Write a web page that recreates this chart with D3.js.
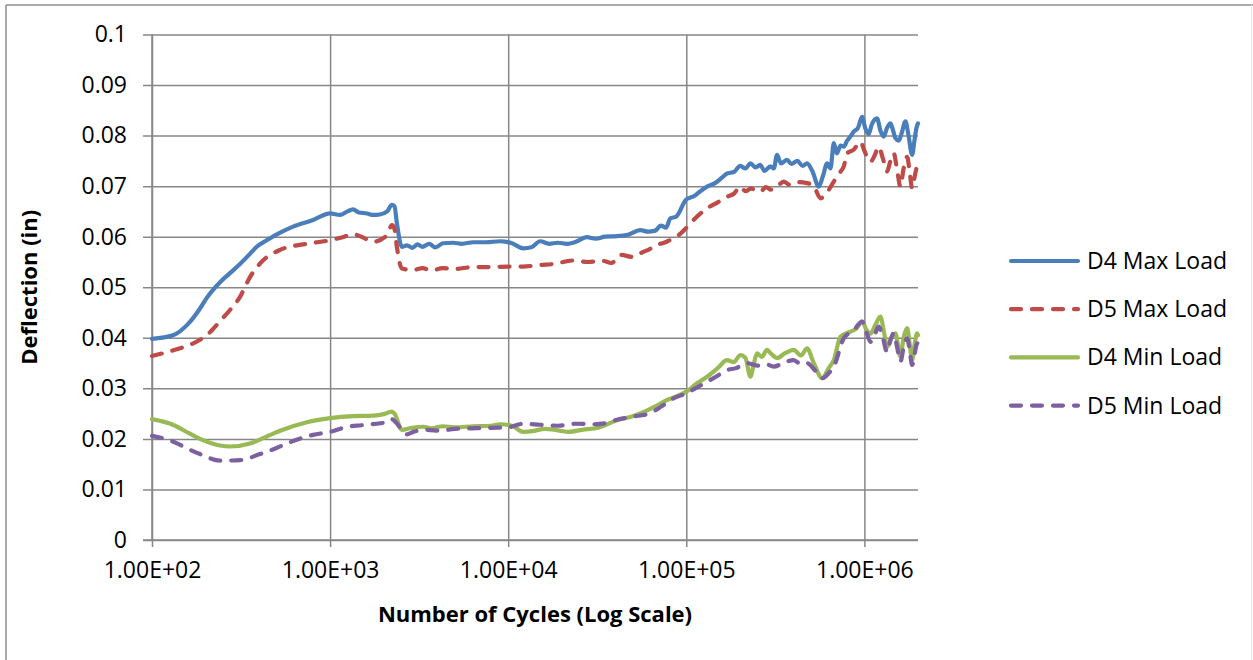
<!DOCTYPE html>
<html>
<head>
<meta charset="utf-8">
<script src="https://cdn.jsdelivr.net/npm/d3@7/dist/d3.min.js"></script>
<style>
  html, body { margin: 0; padding: 0; background: #ffffff; }
  svg { display: block; font-family: "Open Sans", "Noto Sans", sans-serif; }
</style>
</head>
<body>
<svg id="chart" width="1253" height="660"></svg>
<script>
// ---------------- DATA ----------------
const xTickValues = [1e2, 1e3, 1e4, 1e5, 1e6];
const xTickLabels = ["1.00E+02", "1.00E+03", "1.00E+04", "1.00E+05", "1.00E+06"];
const yTickValues = [0, 0.01, 0.02, 0.03, 0.04, 0.05, 0.06, 0.07, 0.08, 0.09, 0.1];
const yTickLabels = ["0", "0.01", "0.02", "0.03", "0.04", "0.05", "0.06", "0.07", "0.08", "0.09", "0.1"];
const seriesNames = ["D4 Max Load", "D5 Max Load", "D4 Min Load", "D5 Min Load"];

const d4MaxCycles = [100,131,160,186,203,241,274,312,355,387,441,524,620,802,1000,1138,1250,1346,1450,1614,1745,1900,2091,2222,2300,2371,2529,2700,2900,3100,3300,3600,3900,4300,4910,5500,6360,7500,9010,10500,12140,13500,15120,17000,19000,21370,24000,27670,31000,35000,40810,47000,55190,61000,66960,72000,77000,81290,88000,99600,110000,120000,130700,145000,160000,169300,185000,201100,215000,229100,245000,260000,275000,296400,310000,323200,340000,368000,390000,420000,450000,476600,510000,554200,585000,618000,645000,673300,700000,735000,766000,800000,834600,871400,920000,970700,1010000,1057000,1100000,1178000,1230000,1283000,1340000,1400000,1450000,1493000,1560000,1620000,1700000,1770000,1853000,1910000,1960000,2000000];
const d4Max = [0.0398,0.0405,0.0428,0.0458,0.0479,0.0510,0.0528,0.0546,0.0566,0.0580,0.0593,0.0608,0.0620,0.0633,0.0646,0.0643,0.0650,0.0654,0.0648,0.0646,0.0643,0.0644,0.0650,0.0663,0.0660,0.0627,0.0580,0.0583,0.0578,0.0585,0.0580,0.0586,0.0579,0.0587,0.0588,0.0586,0.0589,0.0589,0.0591,0.0587,0.0577,0.0579,0.0591,0.0586,0.0588,0.0586,0.0590,0.0599,0.0596,0.0600,0.0601,0.0604,0.0613,0.0610,0.0612,0.0622,0.0618,0.0636,0.0640,0.0673,0.0680,0.0690,0.0699,0.0706,0.0718,0.0725,0.0728,0.0740,0.0735,0.0745,0.0737,0.0742,0.0730,0.0739,0.0735,0.0762,0.0745,0.0752,0.0744,0.0750,0.0740,0.0745,0.0730,0.0699,0.0720,0.0745,0.0735,0.0785,0.0765,0.0780,0.0778,0.0790,0.0798,0.0808,0.0815,0.0837,0.0815,0.0803,0.0822,0.0834,0.0810,0.0798,0.0815,0.0824,0.0810,0.0795,0.0790,0.0805,0.0828,0.0800,0.0762,0.0790,0.0815,0.0824];

const d5MaxCycles = [100,131,160,186,210,241,274,312,355,404,524,740,1000,1200,1346,1500,1745,2091,2222,2300,2371,2529,2927,3300,3700,4300,5000,6360,8000,10000,12000,15120,18000,23180,28000,34180,38000,42580,50000,57330,62000,68420,75000,84530,92000,99600,115000,130700,150000,169300,185000,201100,215000,230000,260600,280000,300000,330000,352200,380000,420000,476600,520000,566300,610000,673300,720000,766000,800200,870000,950000,1000000,1081000,1140000,1203000,1270000,1341000,1400000,1461000,1530000,1593000,1660000,1738000,1800000,1853000,1930000,2000000];
const d5Max = [0.0364,0.0375,0.0385,0.0396,0.0410,0.0433,0.0455,0.0481,0.0520,0.0547,0.0574,0.0586,0.0593,0.0600,0.0605,0.0600,0.0590,0.0603,0.0623,0.0615,0.0580,0.0537,0.0534,0.0538,0.0533,0.0538,0.0536,0.0540,0.0540,0.0541,0.0541,0.0544,0.0546,0.0553,0.0550,0.0552,0.0548,0.0564,0.0560,0.0570,0.0575,0.0584,0.0588,0.0597,0.0605,0.0617,0.0640,0.0656,0.0668,0.0679,0.0685,0.0699,0.0690,0.0695,0.0689,0.0698,0.0693,0.0702,0.0709,0.0703,0.0708,0.0706,0.0700,0.0676,0.0685,0.0709,0.0725,0.0739,0.0765,0.0772,0.0788,0.0770,0.0748,0.0760,0.0778,0.0755,0.0729,0.0750,0.0765,0.0730,0.0699,0.0735,0.0758,0.0725,0.0696,0.0725,0.0748];

const d4MinCycles = [100,131,160,186,241,274,355,430,524,740,1000,1346,1745,2000,2222,2300,2529,2800,3328,3700,4300,5000,6360,8000,9010,10500,12140,14000,16000,19000,22000,26000,32000,40810,50000,60000,70000,77940,85000,99600,115000,130700,150000,169300,185000,201100,215000,229100,240000,249600,265000,283900,300000,323200,360000,401000,440000,476600,520000,579200,630000,673300,733600,834600,900000,970700,1030000,1081000,1150000,1230000,1290000,1341000,1420000,1493000,1593000,1660000,1738000,1800000,1853000,1920000,1977000,2000000];
const d4Min = [0.0239,0.0228,0.0212,0.0200,0.0187,0.0185,0.0191,0.0203,0.0216,0.0233,0.0241,0.0245,0.0246,0.0249,0.0254,0.0250,0.0218,0.0221,0.0224,0.0221,0.0225,0.0223,0.0225,0.0226,0.0229,0.0226,0.0214,0.0216,0.0220,0.0217,0.0214,0.0218,0.0222,0.0237,0.0245,0.0256,0.0268,0.0277,0.0282,0.0293,0.0310,0.0323,0.0340,0.0356,0.0352,0.0366,0.0360,0.0323,0.0350,0.0369,0.0362,0.0376,0.0368,0.0360,0.0370,0.0376,0.0365,0.0379,0.0350,0.0320,0.0340,0.0356,0.0402,0.0412,0.0418,0.0432,0.0415,0.0408,0.0425,0.0442,0.0410,0.0382,0.0400,0.0409,0.0363,0.0400,0.0419,0.0385,0.0356,0.0390,0.0409,0.0405];

const d5MinCycles = [100,131,160,186,241,312,404,500,573,802,1000,1247,1500,1911,2100,2222,2350,2698,3000,3506,4200,5000,6360,8000,10000,12140,15120,19000,24000,30000,35000,40810,50000,62780,73000,84530,99600,115000,130700,150000,169300,190000,219300,250000,280000,309500,350000,401000,440000,476600,530000,579200,630000,673300,766000,871400,970700,1030000,1081000,1140000,1203000,1270000,1341000,1400000,1461000,1530000,1593000,1660000,1738000,1800000,1853000,1920000,1977000,2000000];
const d5Min = [0.0206,0.0195,0.0180,0.0170,0.0157,0.0158,0.0170,0.0182,0.0191,0.0208,0.0214,0.0224,0.0227,0.0231,0.0233,0.0239,0.0232,0.0209,0.0215,0.0218,0.0216,0.0220,0.0221,0.0222,0.0223,0.0230,0.0228,0.0226,0.0230,0.0229,0.0231,0.0238,0.0244,0.0251,0.0265,0.0280,0.0290,0.0302,0.0313,0.0325,0.0336,0.0340,0.0350,0.0345,0.0348,0.0343,0.0350,0.0356,0.0348,0.0350,0.0335,0.0320,0.0330,0.0343,0.0399,0.0415,0.0432,0.0410,0.0392,0.0405,0.0422,0.0400,0.0372,0.0395,0.0409,0.0380,0.0353,0.0380,0.0399,0.0372,0.0346,0.0370,0.0389,0.0385];

// ---------------- LAYOUT ----------------
const plot = { left: 152, right: 918, top: 34.5, bottom: 540 };
const gridColor = "#878787";
const colors = ["#4A7EBB", "#BE4B48", "#98B954", "#7D60A0"];
const dashes = [null, "10,11", null, "10,11"];
const fontSize = 23;
const titleSize = 22;

const svg = d3.select("#chart");

// outer chart border
svg.append("line").attr("x1", 6).attr("y1", 5).attr("x2", 1253).attr("y2", 5)
  .attr("stroke", "#8c8c8c").attr("stroke-width", 1.5);
svg.append("line").attr("x1", 6).attr("y1", 5).attr("x2", 6).attr("y2", 660)
  .attr("stroke", "#8c8c8c").attr("stroke-width", 1.5);
svg.append("line").attr("x1", 1251.5).attr("y1", 5).attr("x2", 1251.5).attr("y2", 660)
  .attr("stroke", "#e6e6e6").attr("stroke-width", 1);

const x = d3.scaleLog().domain([100, 2e6]).range([plot.left, plot.right]);
const y = d3.scaleLinear().domain([0, 0.1]).range([plot.bottom, plot.top]);

// Y axis with gridlines
const yAxis = d3.axisLeft(y)
  .tickValues(yTickValues)
  .tickFormat((d, i) => yTickLabels[i])
  .tickSize(9)
  .tickPadding(16);
const gy = svg.append("g").attr("transform", `translate(${plot.left},0)`).call(yAxis);
gy.select(".domain").remove();
gy.selectAll(".tick line").attr("stroke", gridColor).attr("stroke-width", 1.5)
  .attr("x2", -9).attr("x1", plot.right - plot.left);
gy.selectAll(".tick text").attr("font-size", fontSize).attr("fill", "#000")
  .attr("font-family", "Open Sans");

// X axis with gridlines
const xAxis = d3.axisBottom(x)
  .tickValues(xTickValues)
  .tickFormat((d, i) => xTickLabels[i])
  .tickSize(7)
  .tickPadding(15);
const gx = svg.append("g").attr("transform", `translate(0,${plot.bottom})`).call(xAxis);
gx.select(".domain").remove();
gx.selectAll(".tick line").attr("stroke", gridColor).attr("stroke-width", 1.5)
  .attr("y2", 7).attr("y1", -(plot.bottom - plot.top));
gx.selectAll(".tick text").attr("font-size", fontSize).attr("fill", "#000")
  .attr("font-family", "Open Sans");

// axis lines
svg.append("line").attr("x1", plot.left).attr("x2", plot.left)
  .attr("y1", plot.top).attr("y2", plot.bottom).attr("stroke", gridColor).attr("stroke-width", 1.5);
svg.append("line").attr("x1", plot.left - 9).attr("x2", plot.right)
  .attr("y1", plot.bottom).attr("y2", plot.bottom).attr("stroke", gridColor).attr("stroke-width", 1.5);

// series
const allSeries = [
  { name: seriesNames[0], cycles: d4MaxCycles, values: d4Max },
  { name: seriesNames[1], cycles: d5MaxCycles, values: d5Max },
  { name: seriesNames[2], cycles: d4MinCycles, values: d4Min },
  { name: seriesNames[3], cycles: d5MinCycles, values: d5Min }
];
const line = d3.line()
  .x(d => x(d[0]))
  .y(d => y(d[1]))
  .curve(d3.curveMonotoneX);

allSeries.forEach((s, i) => {
  const pts = s.cycles.map((c, k) => [c, s.values[k]]);
  svg.append("path")
    .attr("d", line(pts))
    .attr("fill", "none")
    .attr("stroke", colors[i])
    .attr("stroke-width", 4.2)
    .attr("stroke-linecap", "round")
    .attr("stroke-linejoin", "round")
    .attr("stroke-dasharray", dashes[i]);
});

// axis titles
svg.append("text")
  .attr("x", (plot.left + plot.right) / 2).attr("y", 622)
  .attr("text-anchor", "middle")
  .attr("font-size", titleSize).attr("font-weight", "bold")
  .attr("font-family", "Open Sans")
  .text("Number of Cycles (Log Scale)");
svg.append("text")
  .attr("transform", `translate(37,${(plot.top + plot.bottom) / 2}) rotate(-90)`)
  .attr("text-anchor", "middle")
  .attr("font-size", titleSize).attr("font-weight", "bold")
  .attr("font-family", "Open Sans")
  .text("Deflection (in)");

// legend
const legendY0 = 261, legendStep = 48.2;
seriesNames.forEach((name, i) => {
  const ly = legendY0 + i * legendStep;
  svg.append("line")
    .attr("x1", 1011).attr("x2", 1078).attr("y1", ly).attr("y2", ly)
    .attr("stroke", colors[i]).attr("stroke-width", 4.2)
    .attr("stroke-linecap", "round")
    .attr("stroke-dasharray", dashes[i]);
  svg.append("text")
    .attr("x", 1087).attr("y", ly)
    .attr("dy", "0.35em")
    .attr("font-size", fontSize)
    .attr("font-family", "Open Sans")
    .text(name);
});
</script>
</body>
</html>
